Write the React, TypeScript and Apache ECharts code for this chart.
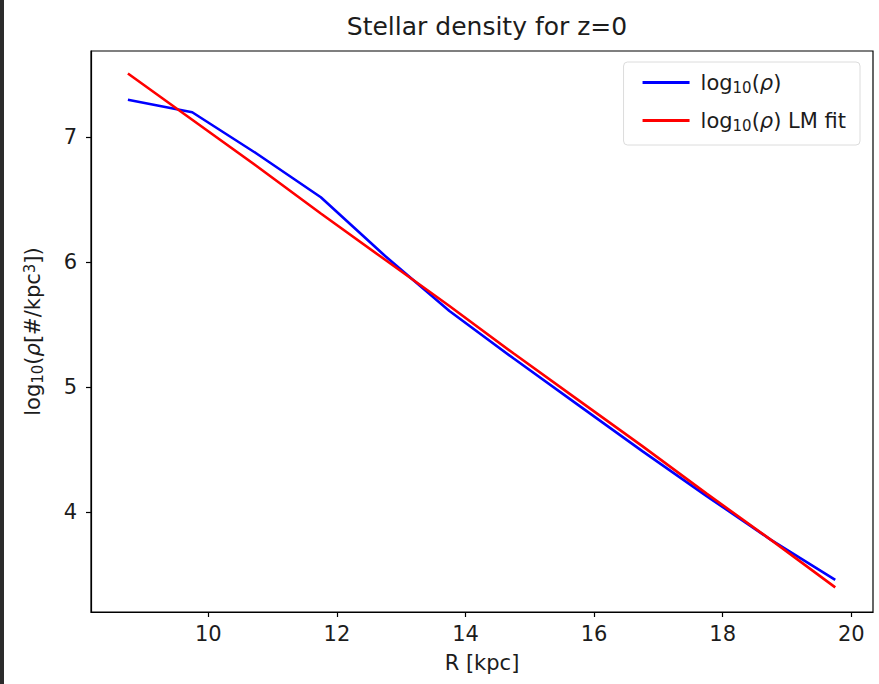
import React, { useEffect, useRef } from "react";
import * as echarts from "echarts";

// Radius bins (kpc)
const radius = [8.75, 9.75, 10.75, 11.75, 12.75, 13.75, 14.75, 15.75, 16.75, 17.75, 18.75, 19.75];
// Measured log10 stellar density
const logRho = [7.3, 7.2, 6.87, 6.52, 6.05, 5.61, 5.23, 4.86, 4.49, 4.13, 3.78, 3.46];
// Levenberg–Marquardt linear fit of log10 density
const logRhoFit = [7.51, 7.14, 6.77, 6.39, 6.02, 5.65, 5.27, 4.9, 4.53, 4.15, 3.78, 3.4];

const xTicks = [10, 12, 14, 16, 18, 20];
const yTicks = [4, 5, 6, 7];

const seriesNames = ["log10(ρ)", "log10(ρ) LM fit"];

const FONT = "DejaVu Sans";
const INK = "#1c1c1c";

const richMath = (size: number) => ({
  n: { fontSize: size, fontFamily: FONT, color: INK },
  sub: { fontSize: Math.round(size * 0.7), fontFamily: FONT, color: INK, verticalAlign: "bottom", padding: [0, 0, -2, 0] },
  sup: { fontSize: Math.round(size * 0.7), fontFamily: FONT, color: INK, verticalAlign: "top" },
  it: { fontSize: size, fontFamily: FONT, color: INK, fontStyle: "italic" },
});

export default function App() {
  const ref = useRef<HTMLDivElement>(null);

  useEffect(() => {
    document.body.style.margin = "0";
    const chart = echarts.init(ref.current!, null, { renderer: "svg" });
    chart.setOption({
      animation: false,
      backgroundColor: "#fff",
      title: {
        text: "Stellar density for z=0",
        left: 482,
        top: 9,
        textAlign: "center",
        textStyle: { fontFamily: FONT, fontSize: 25, fontWeight: "normal", color: INK },
      },
      graphic: [
        { type: "rect", left: 0, top: 0, shape: { width: 4, height: 684 }, style: { fill: "#2b2b2b" } },
      ],
      legend: {
        orient: "vertical",
        right: 19,
        top: 62,
        data: seriesNames,
        icon: "rect",
        itemWidth: 47,
        itemHeight: 3,
        itemGap: 15,
        padding: [10, 14, 12, 19],
        borderColor: "#dcdcdc",
        borderWidth: 1,
        borderRadius: 4,
        backgroundColor: "rgba(255,255,255,0.8)",
        formatter: (name: string) =>
          "{n|log}{sub|10}{n|(}{it|ρ}{n|)}" + (name.endsWith("fit") ? "{n| LM fit}" : ""),
        textStyle: { fontFamily: FONT, fontSize: 21, color: INK, padding: [0, 0, 0, 6], rich: richMath(21) },
      },
      grid: {
        left: 91,
        right: 6,
        top: 51,
        bottom: 72,
        show: true,
        borderColor: "#000",
        borderWidth: 1.2,
        backgroundColor: "transparent",
      },
      xAxis: {
        type: "value",
        min: 8.176,
        max: 20.337,
        name: "R [kpc]",
        nameLocation: "middle",
        nameGap: 40,
        nameTextStyle: { fontFamily: FONT, fontSize: 21, color: INK },
        axisLine: { show: true, lineStyle: { color: "#000", width: 1.2 } },
        axisTick: { show: true, customValues: xTicks, length: 5, lineStyle: { color: "#000", width: 1.2 } },
        axisLabel: { customValues: xTicks, fontFamily: FONT, fontSize: 21, color: INK, margin: 11 },
        splitLine: { show: false },
      },
      yAxis: {
        type: "value",
        min: 3.203,
        max: 7.69,
        name: "{n|log}{sub|10}{n|(}{it|ρ}{n|[#/kpc}{sup|3}{n|])}",
        nameLocation: "middle",
        nameRotate: 90,
        nameGap: 48,
        nameTextStyle: { fontFamily: FONT, fontSize: 21, color: INK, rich: richMath(21) },
        axisLine: { show: true, lineStyle: { color: "#000", width: 1.2 } },
        axisTick: { show: true, customValues: yTicks, length: 5, lineStyle: { color: "#000", width: 1.2 } },
        axisLabel: { customValues: yTicks, fontFamily: FONT, fontSize: 21, color: INK, margin: 14 },
        splitLine: { show: false },
      },
      series: [
        {
          name: seriesNames[0],
          type: "line",
          data: radius.map((r, i) => [r, logRho[i]]),
          symbol: "none",
          lineStyle: { color: "#0000ff", width: 2.6 },
          itemStyle: { color: "#0000ff" },
        },
        {
          name: seriesNames[1],
          type: "line",
          data: radius.map((r, i) => [r, logRhoFit[i]]),
          symbol: "none",
          lineStyle: { color: "#ff0000", width: 2.6 },
          itemStyle: { color: "#ff0000" },
        },
      ],
    });
    return () => chart.dispose();
  }, []);

  return <div ref={ref} style={{ width: 879, height: 684 }} />;
}
